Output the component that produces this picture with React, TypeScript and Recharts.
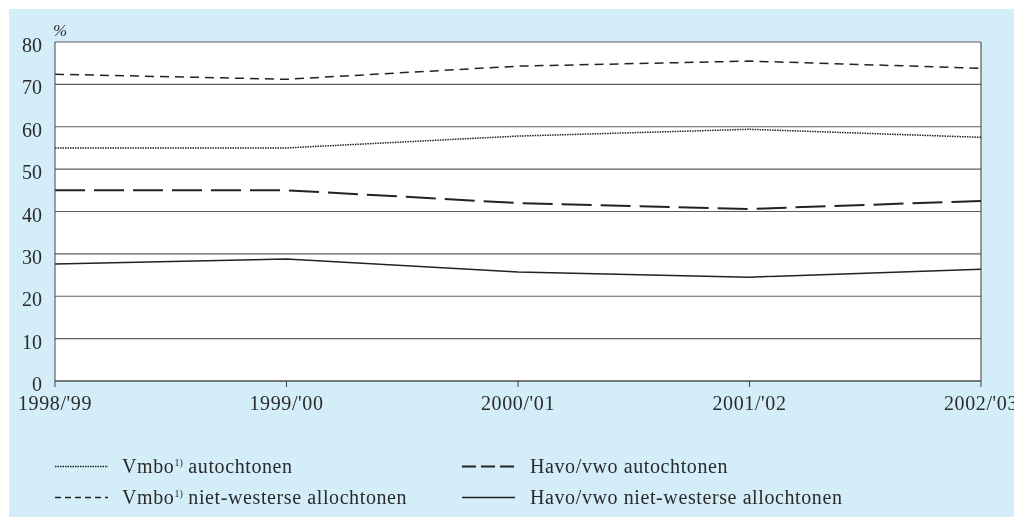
import React from 'react';
import {
  LineChart,
  Line,
  XAxis,
  YAxis,
  CartesianGrid,
  ReferenceLine,
  Legend
} from 'recharts';

const years = ["1998/'99", "1999/'00", "2000/'01", "2001/'02", "2002/'03"];
const vmboAutochtonen = [55.0, 55.0, 57.8, 59.4, 57.5];
const vmboAllochtonen = [72.4, 71.2, 74.3, 75.5, 73.8];
const havoAutochtonen = [45.0, 45.0, 42.0, 40.6, 42.5];
const havoAllochtonen = [27.6, 28.8, 25.7, 24.5, 26.4];
const yTicks = [0, 10, 20, 30, 40, 50, 60, 70, 80];

const data = years.map((year, i) => ({
  year,
  vmboAut: vmboAutochtonen[i],
  vmboAllo: vmboAllochtonen[i],
  havoAut: havoAutochtonen[i],
  havoAllo: havoAllochtonen[i],
}));

const FONT = '"Liberation Serif", "DejaVu Serif", serif';
const INK = '#222';
const TEXT = '#2a2a2a';

type LegendItem = {
  label: React.ReactNode;
  dash?: string;
  width: number;
  left: number;
  textLeft: number;
  top: number;
};

const Sup = () => (
  <sup style={{ fontSize: 10, verticalAlign: 'top', position: 'relative', top: -4, letterSpacing: 0 }}>1)</sup>
);

const legendItems: LegendItem[] = [
  { label: <>Vmbo<Sup /> autochtonen</>, dash: '1.5 1', width: 1.4, left: 46, textLeft: 113, top: 0 },
  { label: <>Vmbo<Sup /> niet-westerse allochtonen</>, dash: '6 4', width: 1.5, left: 46, textLeft: 113, top: 31 },
  { label: 'Havo/vwo autochtonen', dash: '14 5', width: 2, left: 453, textLeft: 521, top: 0 },
  { label: 'Havo/vwo niet-westerse allochtonen', width: 1.5, left: 453, textLeft: 521, top: 31 },
];

const renderLegend = () => (
  <div style={{ position: 'relative', width: 1005, height: 62, fontFamily: FONT, fontSize: 20, letterSpacing: 0.6, color: TEXT }}>
    {legendItems.map((item, i) => (
      <React.Fragment key={i}>
        <svg width={53} height={31} style={{ position: 'absolute', left: item.left, top: item.top }}>
          <line x1={0} y1={15.5} x2={53} y2={15.5} stroke={INK} strokeWidth={item.width} strokeDasharray={item.dash} />
        </svg>
        <div style={{ position: 'absolute', left: item.textLeft, top: item.top, lineHeight: '31px', whiteSpace: 'nowrap' }}>
          {item.label}
        </div>
      </React.Fragment>
    ))}
  </div>
);

const tickStyle = { fill: TEXT, fontSize: 20, fontFamily: FONT, letterSpacing: 0.6 };

export default function App() {
  return (
    <div style={{ position: 'fixed', left: 9, top: 9, width: 1005, height: 508, background: '#d4eef9' }}>
      <style>{'.recharts-surface { overflow: visible; }'}</style>
      <LineChart
        width={1005}
        height={508}
        data={data}
        margin={{ top: 33, right: 33, left: 0, bottom: 44 }}
      >
        <CartesianGrid vertical={false} fill="#ffffff" stroke="#5e5e5e" strokeWidth={1.2} />
        <XAxis
          dataKey="year"
          stroke="#444"
          tickSize={6}
          tickMargin={9}
          height={30}
          tick={tickStyle}
          interval={0}
        />
        <YAxis
          domain={[0, 80]}
          ticks={yTicks}
          width={46}
          stroke="#444"
          tickLine={false}
          tickSize={0}
          tickMargin={13}
          tick={{ ...tickStyle, letterSpacing: 0, dy: 3 }}
          label={{ value: '%', position: 'top', dx: 28, offset: 6, fill: TEXT, fontSize: 17, fontFamily: FONT, fontStyle: 'italic' }}
        />
        <ReferenceLine x={years[years.length - 1]} stroke="#555" strokeWidth={1.2} />
        <Line type="linear" dataKey="vmboAllo" stroke={INK} strokeWidth={1.5} strokeDasharray="9 6" dot={false} isAnimationActive={false} />
        <Line type="linear" dataKey="vmboAut" stroke={INK} strokeWidth={1.5} strokeDasharray="1.5 1" dot={false} isAnimationActive={false} />
        <Line type="linear" dataKey="havoAut" stroke={INK} strokeWidth={2} strokeDasharray="30 9" dot={false} isAnimationActive={false} />
        <Line type="linear" dataKey="havoAllo" stroke={INK} strokeWidth={1.5} dot={false} isAnimationActive={false} />
        <Legend
          content={renderLegend}
          wrapperStyle={{ position: 'absolute', left: 0, top: 442, width: 1005 }}
        />
      </LineChart>
    </div>
  );
}
